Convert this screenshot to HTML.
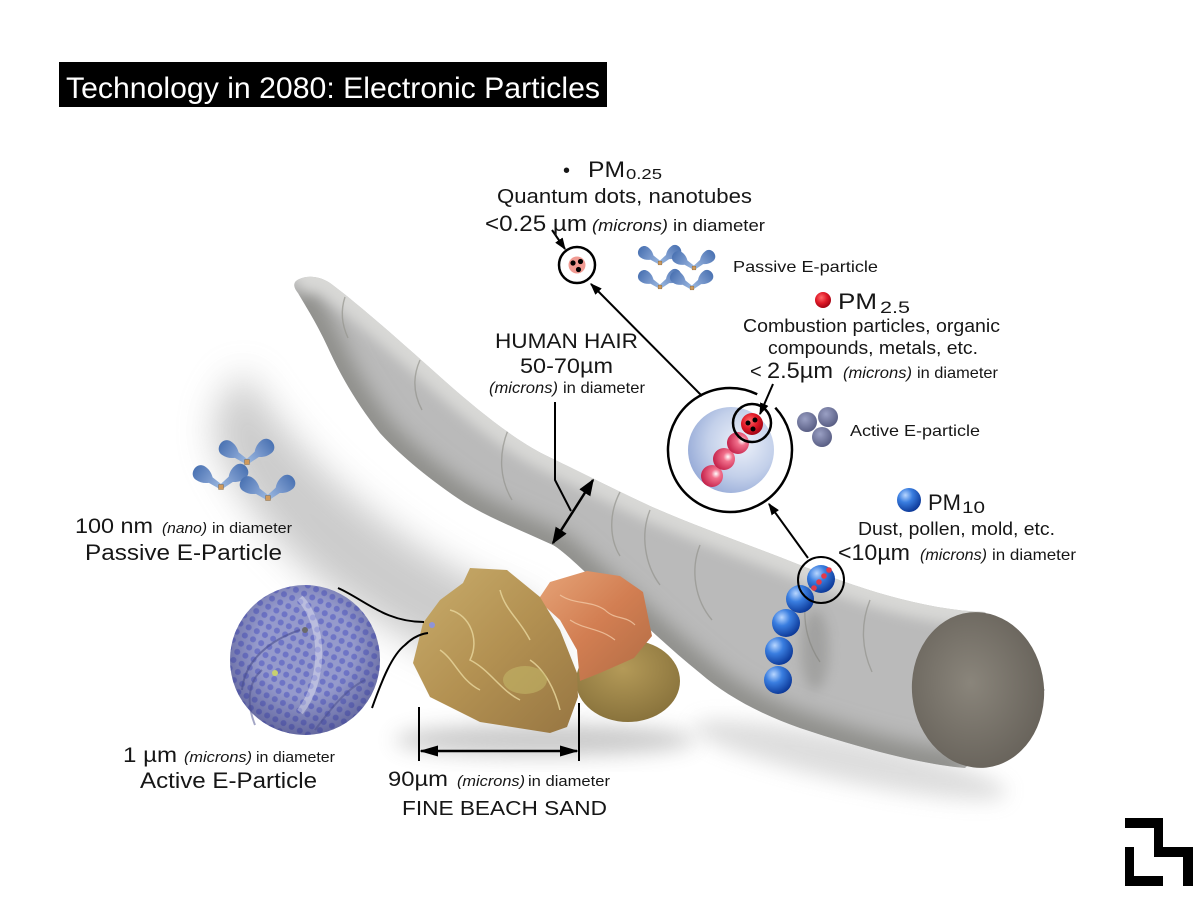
<!DOCTYPE html>
<html>
<head>
<meta charset="utf-8">
<style>
  html,body{margin:0;padding:0;background:#fff;}
  svg{display:block;}
</style>
</head>
<body>
<svg width="1200" height="900" viewBox="0 0 1200 900" xmlns="http://www.w3.org/2000/svg">
<defs>
  <filter id="blur18" x="-50%" y="-50%" width="200%" height="200%"><feGaussianBlur stdDeviation="18"/></filter>
  <filter id="blur10" x="-50%" y="-50%" width="200%" height="200%"><feGaussianBlur stdDeviation="10"/></filter>
  <filter id="blur6" x="-50%" y="-50%" width="200%" height="200%"><feGaussianBlur stdDeviation="6"/></filter>

  <path id="hair" d="M296,281 C304,275 318,275 330,283 C360,305 410,350 447,383 C480,412 515,440 545,455 C580,472 620,492 650,506 C700,528 750,545 800,565 C850,585 920,610 985,612 L1045,690 L965,768 C920,764 860,748 800,728 C760,714 725,695 700,673 C665,645 630,610 600,585 C580,568 565,552 553,545 C520,530 490,518 465,503 C430,480 400,455 380,433 C358,405 342,378 330,352 C318,325 305,305 298,293 C294,288 293,284 296,281 Z"/>
  <clipPath id="hairclip"><use href="#hair"/></clipPath>

  <radialGradient id="capG" cx="0.45" cy="0.45" r="0.6">
    <stop offset="0" stop-color="#8a857b"/><stop offset="1" stop-color="#67625a"/>
  </radialGradient>
  <radialGradient id="blueSph" cx="0.62" cy="0.42" r="0.65">
    <stop offset="0" stop-color="#eef2fa"/><stop offset="0.6" stop-color="#c3d0ea"/><stop offset="1" stop-color="#98acd8"/>
  </radialGradient>
  <radialGradient id="pinkG" cx="0.68" cy="0.4" r="0.7">
    <stop offset="0" stop-color="#ffffff"/><stop offset="0.3" stop-color="#f2708c"/><stop offset="1" stop-color="#c21f48"/>
  </radialGradient>
  <radialGradient id="redG" cx="0.4" cy="0.35" r="0.7">
    <stop offset="0" stop-color="#ff6a6a"/><stop offset="0.5" stop-color="#e01a28"/><stop offset="1" stop-color="#9a0010"/>
  </radialGradient>
  <radialGradient id="blueG" cx="0.35" cy="0.3" r="0.75">
    <stop offset="0" stop-color="#b8d6ff"/><stop offset="0.4" stop-color="#3a7ee0"/><stop offset="1" stop-color="#0a3594"/>
  </radialGradient>
  <radialGradient id="grayG" cx="0.4" cy="0.35" r="0.7">
    <stop offset="0" stop-color="#9aa0c4"/><stop offset="1" stop-color="#555a80"/>
  </radialGradient>
  <radialGradient id="sphShade" cx="0.5" cy="0.42" r="0.58">
    <stop offset="0.55" stop-color="#2a2d6a" stop-opacity="0"/><stop offset="1" stop-color="#2a2d6a" stop-opacity="0.45"/>
  </radialGradient>
  <pattern id="dots" width="9" height="9" patternUnits="userSpaceOnUse" patternTransform="rotate(25)">
    <circle cx="4.5" cy="4.5" r="3" fill="#646bc4"/>
  </pattern>
  <linearGradient id="goldG" x1="0" y1="0" x2="1" y2="1">
    <stop offset="0" stop-color="#c9ad6c"/><stop offset="0.5" stop-color="#b39152"/><stop offset="1" stop-color="#977642"/>
  </linearGradient>
  <linearGradient id="redSand" x1="0" y1="0" x2="1" y2="1">
    <stop offset="0" stop-color="#e6a478"/><stop offset="0.5" stop-color="#d27e52"/><stop offset="1" stop-color="#b06c44"/>
  </linearGradient>
  <radialGradient id="roundG" cx="0.45" cy="0.35" r="0.7">
    <stop offset="0" stop-color="#b49a58"/><stop offset="1" stop-color="#86703a"/>
  </radialGradient>
  <linearGradient id="lobeG" x1="0" y1="0" x2="1" y2="0">
    <stop offset="0" stop-color="#9ab8e0"/><stop offset="0.45" stop-color="#7898cc"/><stop offset="1" stop-color="#4a72b2"/>
  </linearGradient>

  <path id="lobe" d="M0,-2.5 L13,-3.5 C17,-7 21,-8.5 26,-8.5 C31,-8.5 34,-4.5 34,0 C34,4.5 31,8.5 26,8.5 C21,8.5 17,7 13,3.5 L0,2.5 Z" fill="url(#lobeG)"/>
  <g id="vsh">
    <use href="#lobe" transform="rotate(-146)"/>
    <use href="#lobe" transform="rotate(-38)"/>
    <rect x="-2.5" y="-2.5" width="5" height="5" fill="#d09a5c" stroke="#8a6a40" stroke-width="0.6"/>
  </g>

  <marker id="ah" viewBox="0 0 10 10" refX="9" refY="5" markerWidth="12" markerHeight="9" markerUnits="userSpaceOnUse" orient="auto-start-reverse" preserveAspectRatio="none">
    <path d="M0,0 L10,5 L0,10 z" fill="#000"/>
  </marker>
  <marker id="ahb" viewBox="0 0 10 10" refX="9" refY="5" markerWidth="17" markerHeight="13" markerUnits="userSpaceOnUse" orient="auto-start-reverse" preserveAspectRatio="none">
    <path d="M0,0 L10,5 L0,10 z" fill="#000"/>
  </marker>
  <marker id="ahs" viewBox="0 0 10 10" refX="9" refY="5" markerWidth="19" markerHeight="11" markerUnits="userSpaceOnUse" orient="auto-start-reverse" preserveAspectRatio="none">
    <path d="M0,0 L10,5 L0,10 z" fill="#000"/>
  </marker>
</defs>

<rect width="1200" height="900" fill="#fff"/>

<!-- shadows -->
<path d="M245,372 C265,405 300,450 335,482 C385,527 450,575 535,605 L565,690 C480,682 400,640 332,590 C282,552 242,502 218,452 C208,422 220,392 245,372 Z" fill="#a2a2a2" opacity="0.55" filter="url(#blur18)"/>
<ellipse cx="850" cy="760" rx="160" ry="22" transform="rotate(12 850 760)" fill="#a0a0a0" opacity="0.35" filter="url(#blur10)"/>

<!-- hair -->
<use href="#hair" fill="#bababa"/>
<g clip-path="url(#hairclip)">
  <path d="M298,293 C305,305 318,325 330,352 C342,378 358,405 380,433 C400,455 430,480 465,503 C490,518 520,530 553,545 C565,552 580,568 600,585 C630,610 665,645 700,673 C725,695 760,714 800,728 C860,748 920,764 965,768" stroke="#8e8e8a" stroke-width="32" fill="none" filter="url(#blur10)"/>
  <path d="M296,281 C304,275 318,275 330,283 C360,305 410,350 447,383 C480,412 515,440 545,455 C580,472 620,492 650,506 C700,528 750,545 800,565 C850,585 920,610 985,612" stroke="#d8d8d6" stroke-width="30" fill="none" filter="url(#blur6)"/>
  <g stroke="#95958f" stroke-width="1.4" fill="none" opacity="0.7">
    <path d="M345,297 C340,312 342,325 348,338"/>
    <path d="M420,360 C412,378 414,395 422,410"/>
    <path d="M508,430 C498,455 500,480 512,500"/>
    <path d="M620,492 C608,515 610,540 620,556"/>
    <path d="M650,510 C640,535 645,565 660,585"/>
    <path d="M700,545 C690,570 695,600 712,620"/>
    <path d="M810,585 C800,610 805,640 820,662"/>
    <path d="M870,600 C860,625 862,650 872,672"/>
  </g>
  <ellipse cx="815" cy="650" rx="14" ry="40" fill="#6a6a66" opacity="0.3" filter="url(#blur6)"/>
</g>
<ellipse cx="978" cy="690" rx="66" ry="78" transform="rotate(-6 978 690)" fill="url(#capG)"/>

<!-- sand shadow -->
<ellipse cx="545" cy="740" rx="150" ry="16" fill="#8a8a8a" opacity="0.45" filter="url(#blur10)"/>

<!-- sand pieces -->
<ellipse cx="628" cy="681" rx="52" ry="41" fill="url(#roundG)"/>
<path d="M538,600 L550,582 L587,571 L620,576 L643,592 L652,636 L634,658 L600,673 L580,681 L577,650 L560,620 Z" fill="url(#redSand)"/>
<path d="M463,583 L470,568 L507,570 L540,597 L560,630 L577,673 L578,697 L567,727 L550,733 L480,722 L430,697 L413,663 L423,623 L440,600 Z" fill="url(#goldG)"/>
<g stroke="#e6d49a" stroke-width="1.5" fill="none" opacity="0.85">
  <path d="M450,610 C470,615 480,640 470,660 C490,670 500,690 520,700"/>
  <path d="M500,590 C505,610 520,620 530,640"/>
  <path d="M440,650 C455,660 460,680 480,690"/>
  <path d="M530,660 C545,670 555,690 560,710"/>
</g>
<ellipse cx="525" cy="680" rx="22" ry="14" fill="#c4ba6a" opacity="0.55"/>
<g stroke="#f2c8a4" stroke-width="1.2" fill="none" opacity="0.8">
  <path d="M560,595 C575,605 590,600 605,610 C615,620 625,615 635,625"/>
  <path d="M570,620 C585,630 600,628 615,640"/>
</g>
<circle cx="432" cy="625" r="3" fill="#8f94d8"/>

<!-- left active sphere -->
<circle cx="305" cy="660" r="75" fill="#959acc"/>
<circle cx="305" cy="660" r="75" fill="url(#dots)" opacity="0.8"/>
<circle cx="305" cy="660" r="75" fill="url(#sphShade)"/>
<g fill="none">
  <path d="M300,598 C325,625 325,680 300,712" stroke="#fff" stroke-opacity="0.35" stroke-width="7"/>
  <path d="M242,690 C245,660 270,640 300,630" stroke="#4a4e8c" stroke-width="2" opacity="0.6"/>
  <path d="M255,725 C245,700 250,680 262,670" stroke="#4a4e8c" stroke-width="2" opacity="0.5"/>
  <path d="M315,730 C330,710 345,690 365,680" stroke="#4a4e8c" stroke-width="2" opacity="0.5"/>
</g>
<circle cx="275" cy="673" r="3" fill="#c8d070"/>
<circle cx="305" cy="630" r="3" fill="#6a6a6a"/>

<!-- connector curves sphere -> sand -->
<path d="M338,588 C365,600 385,622 424,622" stroke="#000" stroke-width="2" fill="none"/>
<path d="M372,708 C382,680 392,655 405,645 C412,638 420,634 428,633" stroke="#000" stroke-width="2" fill="none"/>

<!-- passive icons -->
<g transform="translate(221,487) scale(0.95)"><use href="#vsh"/></g>
<g transform="translate(247,462) scale(0.95)"><use href="#vsh"/></g>
<g transform="translate(268,498) scale(0.95)"><use href="#vsh"/></g>

<g transform="translate(660,263) scale(0.74)"><use href="#vsh"/></g>
<g transform="translate(694,268) scale(0.74)"><use href="#vsh"/></g>
<g transform="translate(660,287) scale(0.74)"><use href="#vsh"/></g>
<g transform="translate(692,288) scale(0.74)"><use href="#vsh"/></g>

<!-- PM0.25 circle -->
<circle cx="577" cy="265" r="18" fill="#fff" stroke="#000" stroke-width="2.5"/>
<circle cx="577" cy="265" r="8.5" fill="#f09a92"/>
<circle cx="573" cy="263" r="2.6" fill="#000"/>
<circle cx="580.5" cy="261.5" r="2.6" fill="#000"/>
<circle cx="578.5" cy="269.5" r="2.6" fill="#000"/>

<!-- big PM2.5 circle -->
<path d="M775.3,407.7 A62,62 0 1 1 757.2,394.3" fill="none" stroke="#000" stroke-width="2.5"/>
<circle cx="731" cy="450" r="43" fill="url(#blueSph)"/>
<circle cx="712" cy="476" r="11" fill="url(#pinkG)"/>
<circle cx="724" cy="459" r="11" fill="url(#pinkG)"/>
<circle cx="738" cy="443" r="11" fill="url(#pinkG)"/>
<circle cx="752" cy="423" r="19" fill="none" stroke="#000" stroke-width="2.5"/>
<circle cx="752" cy="424" r="11" fill="url(#redG)"/>
<circle cx="748" cy="423" r="2.5" fill="#000"/>
<circle cx="755" cy="420" r="2.5" fill="#000"/>
<circle cx="753" cy="429" r="2.5" fill="#000"/>

<!-- active small spheres -->
<circle cx="807" cy="422" r="10" fill="url(#grayG)"/>
<circle cx="828" cy="417" r="10" fill="url(#grayG)"/>
<circle cx="822" cy="437" r="10" fill="url(#grayG)"/>

<!-- PM10 bubble chain -->
<circle cx="778" cy="680" r="14" fill="url(#blueG)"/>
<circle cx="779" cy="651" r="14" fill="url(#blueG)"/>
<circle cx="786" cy="623" r="14" fill="url(#blueG)"/>
<circle cx="800" cy="599" r="14" fill="url(#blueG)"/>
<circle cx="821" cy="579" r="14" fill="url(#blueG)"/>
<circle cx="814" cy="588" r="2.8" fill="#e23a4a"/>
<circle cx="819" cy="582" r="2.8" fill="#e23a4a"/>
<circle cx="824" cy="576" r="2.8" fill="#e23a4a"/>
<circle cx="829" cy="570" r="2.8" fill="#e23a4a"/>
<circle cx="821" cy="580" r="23" fill="none" stroke="#000" stroke-width="2"/>

<!-- PM legend balls -->
<circle cx="823" cy="300" r="8" fill="url(#redG)"/>
<circle cx="909" cy="500" r="12" fill="url(#blueG)"/>

<!-- arrows -->
<g stroke="#000" stroke-width="2" fill="none">
  <line x1="552" y1="230" x2="565" y2="249" marker-end="url(#ah)"/>
  <line x1="702" y1="396" x2="591" y2="284" marker-end="url(#ah)"/>
  <line x1="773" y1="384" x2="760" y2="414" marker-end="url(#ah)"/>
  <line x1="808" y1="558" x2="769" y2="504" marker-end="url(#ah)"/>
  <polyline points="555,402 555,480 571,511"/>
  <line x1="553" y1="543" x2="593" y2="480" stroke-width="2.5" marker-start="url(#ahb)" marker-end="url(#ahb)"/>
  <line x1="419" y1="707" x2="419" y2="761"/>
  <line x1="579" y1="703" x2="579" y2="761"/>
  <line x1="421" y1="751" x2="577" y2="751" stroke-width="2.5" marker-start="url(#ahs)" marker-end="url(#ahs)"/>
</g>

<!-- title -->
<rect x="59" y="62" width="548" height="45" fill="#000"/>
<g font-family="'Liberation Sans', Arial, sans-serif" fill="#161616">
<text x="66" y="98" font-size="30" fill="#fff" textLength="534" lengthAdjust="spacingAndGlyphs">Technology in 2080: Electronic Particles</text>

<!-- PM0.25 -->
<text x="563" y="177" font-size="20">•</text>
<text x="588" y="177" font-size="22" textLength="37" lengthAdjust="spacingAndGlyphs">PM</text>
<text x="626" y="179" font-size="15" textLength="36" lengthAdjust="spacingAndGlyphs">0.25</text>
<text x="497" y="203" font-size="20" textLength="255" lengthAdjust="spacingAndGlyphs">Quantum dots, nanotubes</text>
<text x="485" y="231" font-size="22" textLength="102" lengthAdjust="spacingAndGlyphs">&lt;0.25 µm</text>
<text x="592" y="231" font-size="17" font-style="italic" textLength="76" lengthAdjust="spacingAndGlyphs">(microns)</text>
<text x="673" y="231" font-size="17" textLength="92" lengthAdjust="spacingAndGlyphs">in diameter</text>

<text x="733" y="272" font-size="16" textLength="145" lengthAdjust="spacingAndGlyphs">Passive E-particle</text>

<!-- PM2.5 -->
<text x="838" y="309" font-size="22" textLength="39" lengthAdjust="spacingAndGlyphs">PM</text>
<text x="880" y="313" font-size="17" textLength="30" lengthAdjust="spacingAndGlyphs">2.5</text>
<text x="743" y="332" font-size="18" textLength="257" lengthAdjust="spacingAndGlyphs">Combustion particles, organic</text>
<text x="768" y="354" font-size="18" textLength="210" lengthAdjust="spacingAndGlyphs">compounds, metals, etc.</text>
<text x="750" y="378" font-size="20">&lt;</text>
<text x="767" y="378" font-size="22" textLength="66" lengthAdjust="spacingAndGlyphs">2.5µm</text>
<text x="843" y="378" font-size="16" font-style="italic" textLength="69" lengthAdjust="spacingAndGlyphs">(microns)</text>
<text x="917" y="378" font-size="16" textLength="81" lengthAdjust="spacingAndGlyphs">in diameter</text>

<text x="850" y="436" font-size="16" textLength="130" lengthAdjust="spacingAndGlyphs">Active E-particle</text>

<!-- PM10 -->
<text x="928" y="510" font-size="22" textLength="33" lengthAdjust="spacingAndGlyphs">PM</text>
<text x="962" y="513" font-size="17" textLength="23" lengthAdjust="spacingAndGlyphs">10</text>
<text x="858" y="535" font-size="18" textLength="197" lengthAdjust="spacingAndGlyphs">Dust, pollen, mold, etc.</text>
<text x="838" y="560" font-size="22" textLength="72" lengthAdjust="spacingAndGlyphs">&lt;10µm</text>
<text x="920" y="560" font-size="16" font-style="italic" textLength="67" lengthAdjust="spacingAndGlyphs">(microns)</text>
<text x="992" y="560" font-size="16" textLength="84" lengthAdjust="spacingAndGlyphs">in diameter</text>

<!-- hair -->
<text x="495" y="348" font-size="21" textLength="143" lengthAdjust="spacingAndGlyphs">HUMAN HAIR</text>
<text x="520" y="373" font-size="21" textLength="93" lengthAdjust="spacingAndGlyphs">50-70µm</text>
<text x="489" y="393" font-size="16" font-style="italic" textLength="69" lengthAdjust="spacingAndGlyphs">(microns)</text>
<text x="563" y="393" font-size="16" textLength="82" lengthAdjust="spacingAndGlyphs">in diameter</text>

<!-- left labels -->
<text x="75" y="533" font-size="21" textLength="78" lengthAdjust="spacingAndGlyphs">100 nm</text>
<text x="162" y="533" font-size="15" font-style="italic" textLength="45" lengthAdjust="spacingAndGlyphs">(nano)</text>
<text x="212" y="533" font-size="15" textLength="80" lengthAdjust="spacingAndGlyphs">in diameter</text>
<text x="85" y="560" font-size="22" textLength="197" lengthAdjust="spacingAndGlyphs">Passive E-Particle</text>

<text x="123" y="762" font-size="21" textLength="54" lengthAdjust="spacingAndGlyphs">1 µm</text>
<text x="184" y="762" font-size="15" font-style="italic" textLength="68" lengthAdjust="spacingAndGlyphs">(microns)</text>
<text x="256" y="762" font-size="15" textLength="79" lengthAdjust="spacingAndGlyphs">in diameter</text>
<text x="140" y="788" font-size="22" textLength="177" lengthAdjust="spacingAndGlyphs">Active E-Particle</text>

<!-- sand labels -->
<text x="388" y="786" font-size="21" textLength="60" lengthAdjust="spacingAndGlyphs">90µm</text>
<text x="457" y="786" font-size="15" font-style="italic" textLength="68" lengthAdjust="spacingAndGlyphs">(microns)</text>
<text x="528" y="786" font-size="15" textLength="82" lengthAdjust="spacingAndGlyphs">in diameter</text>
<text x="402" y="815" font-size="20" textLength="205" lengthAdjust="spacingAndGlyphs">FINE BEACH SAND</text>
</g>

<!-- logo -->
<g fill="#000">
  <rect x="1125" y="818" width="38" height="10"/>
  <rect x="1154" y="818" width="9" height="39"/>
  <rect x="1154" y="847" width="39" height="10"/>
  <rect x="1183" y="847" width="10" height="39"/>
  <rect x="1125" y="847" width="9" height="39"/>
  <rect x="1125" y="876" width="38" height="10"/>
</g>
</svg>
</body>
</html>
